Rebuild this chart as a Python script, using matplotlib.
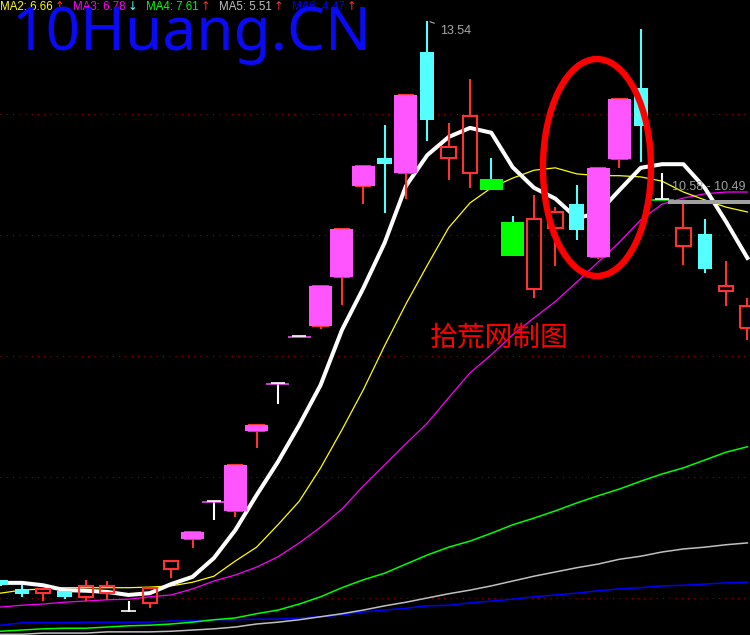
import numpy as np
import matplotlib.pyplot as plt
from matplotlib.patches import Rectangle, Ellipse

# candle data (price units), one entry per bar
opens = [4.30, 4.15, 4.08, 4.12, 4.02, 4.08, 3.77, 3.92, 4.48, 4.98, 5.60, 5.44,
         6.76, 7.55, 8.33, 8.50, 9.31, 10.81, 11.27, 11.02, 13.02, 11.27, 11.02, 10.93,
         10.21, 9.11, 10.12, 10.51, 9.64, 11.26, 12.43, 10.59, 9.82, 10.02, 9.07, 8.46]
highs = [4.30, 4.21, 4.16, 4.12, 4.30, 4.28, 3.95, 4.17, 4.61, 5.09, 5.60, 6.20,
         6.86, 7.55, 8.33, 9.16, 10.12, 11.16, 11.82, 12.33, 13.54, 11.85, 12.58, 11.27,
         10.31, 10.66, 10.46, 10.83, 11.12, 12.26, 13.40, 11.02, 10.53, 10.26, 9.57, 8.96]
lows = [4.20, 4.02, 3.95, 3.98, 3.95, 3.97, 3.77, 3.83, 4.33, 4.83, 5.29, 5.34,
        6.48, 7.21, 8.33, 8.45, 8.84, 10.51, 10.36, 10.60, 11.55, 10.91, 10.78, 10.74,
        9.65, 8.96, 9.49, 9.92, 9.60, 11.11, 11.21, 10.59, 9.50, 9.37, 8.83, 8.26]
closes = [4.22, 4.07, 4.15, 4.02, 4.20, 4.20, 3.77, 4.17, 4.61, 5.09, 5.60, 6.20,
          6.86, 7.55, 8.33, 9.16, 10.10, 11.14, 11.17, 12.31, 11.90, 11.45, 11.97, 10.74,
          9.65, 10.26, 10.38, 10.08, 11.11, 12.25, 11.80, 10.59, 10.12, 9.44, 9.16, 8.83]
# highlight overlay: m = magenta, g = green
marks = ['', '', '', '', '', '', '', '', '', 'm', 'm', 'm',
         'm', 'm', 'm', 'm', 'm', 'm', '', 'm', '', '', '', 'g',
         'g', '', '', '', 'm', 'm', '', 'g', '', '', '', '']

# moving averages
ma1 = [4.25, 4.25, 4.21, 4.13, 4.12, 4.10, 4.05, 4.08, 4.23, 4.35, 4.66, 5.12,
       5.70, 6.25, 6.86, 7.52, 8.43, 9.12, 9.87, 10.81, 11.32, 11.62, 11.77, 11.69,
       11.12, 10.78, 10.60, 10.28, 10.36, 10.74, 11.11, 11.17, 11.17, 10.78, 10.22, 9.62]
ma2 = [4.08, 4.13, 4.15, 4.17, 4.17, 4.17, 4.17, 4.18, 4.20, 4.26, 4.36, 4.61,
       4.84, 5.21, 5.60, 6.15, 6.78, 7.44, 8.17, 8.86, 9.50, 10.12, 10.53, 10.78,
       10.94, 11.07, 11.11, 11.01, 10.98, 10.98, 10.96, 10.89, 10.71, 10.58, 10.46, 10.38]
ma3 = [3.85, 3.88, 3.90, 3.93, 3.95, 3.97, 3.98, 4.02, 4.05, 4.15, 4.28, 4.38,
       4.51, 4.68, 4.91, 5.17, 5.47, 5.85, 6.20, 6.55, 6.89, 7.31, 7.72, 8.02,
       8.35, 8.63, 8.90, 9.22, 9.55, 9.88, 10.25, 10.51, 10.61, 10.68, 10.71, 10.71]
ma4 = [3.45, 3.47, 3.49, 3.50, 3.50, 3.52, 3.54, 3.55, 3.57, 3.60, 3.64, 3.67,
       3.74, 3.80, 3.90, 4.02, 4.17, 4.30, 4.41, 4.56, 4.71, 4.84, 4.94, 5.07,
       5.21, 5.32, 5.44, 5.57, 5.69, 5.80, 5.93, 6.05, 6.15, 6.28, 6.41, 6.50]
ma5 = [3.40, 3.40, 3.42, 3.42, 3.42, 3.44, 3.44, 3.44, 3.45, 3.47, 3.49, 3.52,
       3.57, 3.60, 3.64, 3.69, 3.74, 3.80, 3.87, 3.93, 4.00, 4.07, 4.13, 4.20,
       4.28, 4.36, 4.43, 4.50, 4.56, 4.64, 4.69, 4.76, 4.81, 4.84, 4.88, 4.91]
ma6 = [3.55, 3.59, 3.59, 3.59, 3.60, 3.60, 3.60, 3.60, 3.62, 3.62, 3.64, 3.64,
       3.65, 3.65, 3.67, 3.69, 3.72, 3.77, 3.80, 3.83, 3.87, 3.88, 3.92, 3.95,
       3.98, 4.02, 4.05, 4.08, 4.12, 4.15, 4.17, 4.20, 4.21, 4.23, 4.25, 4.26]

grid_levels = [12, 10, 8, 6, 4]
header = [("MA2: 6.66", "#ffff00", "\u2191", "#ff3030"),
          ("MA3: 6.78", "#ff00ff", "\u2193", "#54ffff"),
          ("MA4: 7.61", "#00ff00", "\u2191", "#ff3030"),
          ("MA5: 5.51", "#c0c0c0", "\u2191", "#ff3030"),
          ("MA6: 4.47", "#0000ff", "\u2191", "#ff3030")]
gap_label = "10.58 - 10.49"
gap_level = 10.545

RED = "#ff3232"
CYAN = "#54ffff"
PINK = "#ff55ff"
GREEN = "#00ff00"

W, H = 750, 635
PXB = 21.34   # pixels per bar
PXU = 60.5    # pixels per price unit

fig = plt.figure(figsize=(W / 100, H / 100), dpi=100)
fig.patch.set_facecolor("black")
ax = fig.add_axes([0, 0, 1, 1])
ax.set_facecolor("black")
ax.set_xlim(-0.5 / PXB, (W - 0.5) / PXB)
ax.set_ylim(13.884 - H / PXU, 13.884)
ax.axis("off")

for lv in grid_levels:
    ax.axhline(lv, color="#a00000", lw=0.75, linestyle=(0, (1, 5)), zorder=1)

x = np.arange(len(opens))
ax.plot(x, ma6, color="#0000ff", lw=1.1, zorder=2)
ax.plot(x, ma5, color="#c0c0c0", lw=1.1, zorder=2)
ax.plot(x, ma4, color=GREEN, lw=1.1, zorder=2)
ax.plot(x, ma3, color="#ff00ff", lw=0.9, zorder=2)
ax.plot(x, ma2, color="#ffff00", lw=0.9, zorder=2)
ax.plot(x, ma1, color="white", lw=2.9, zorder=2)

hw = 7.2 / PXB      # half width of normal candle
ow = 11.5 / PXB     # half width of highlight bar
px = 1 / PXU
for i in range(len(opens)):
    o, h, l, c = opens[i], highs[i], lows[i], closes[i]
    top, bot = max(o, c), min(o, c)
    if c > o:
        ax.plot([i, i], [top, h], color=RED, lw=1.5, zorder=3, solid_capstyle="butt")
        ax.plot([i, i], [l, bot], color=RED, lw=1.5, zorder=3, solid_capstyle="butt")
        ax.add_patch(Rectangle((i - hw, bot), 2 * hw, top - bot, facecolor="none",
                               edgecolor=RED, lw=1.5, zorder=4))
    elif c < o:
        ax.plot([i, i], [l, h], color=CYAN, lw=1.5, zorder=3, solid_capstyle="butt")
        ax.add_patch(Rectangle((i - hw, bot), 2 * hw, top - bot, facecolor=CYAN,
                               edgecolor="none", zorder=4))
    else:
        ax.plot([i, i], [l, h], color="white", lw=1.5, zorder=3, solid_capstyle="butt")
    mk = marks[i]
    if mk:
        col = PINK if mk == "m" else GREEN
        if c != o:
            ax.add_patch(Rectangle((i - ow, bot), 2 * ow, top - bot, facecolor=col,
                                   edgecolor="none", zorder=5))
        else:
            ax.plot([i - ow, i + ow], [o - px, o - px], color=col, lw=1.1, zorder=5,
                    solid_capstyle="butt")
    if c == o:
        ax.plot([i - hw, i + hw], [o + 0.5 * px, o + 0.5 * px], color="white", lw=1.2,
                zorder=6, solid_capstyle="butt")

# high marker
imax = int(np.argmax(highs))
ax.annotate(f"{highs[imax]:.2f}", xy=(imax, highs[imax]), xytext=(9, -7),
            textcoords="offset points", color="#a8a8a8", fontsize=9,
            family="Liberation Sans", va="center",
            arrowprops=dict(arrowstyle="-", color="#a8a8a8", lw=0.8))

# gap marker
ax.plot([31.28, x[-1] + 1], [gap_level, gap_level], color="#a0a0a0", lw=2.9,
        zorder=6, solid_capstyle="butt")
ax.text(31.45, gap_level + 9 * px, gap_label, color="#a0a0a0", fontsize=9,
        family="Liberation Sans", va="bottom", zorder=7)

# circled highlight
ax.add_patch(Ellipse((27.95, 11.115), 108 / PXB, 217 / PXU, facecolor="none",
                     edgecolor="#ff0000", lw=4.6, zorder=8))

# header line
xpos = 0
for label, col, arr, acol in header:
    fig.text(xpos / W, 1 - 10 / H, label, color=col, fontsize=8.3,
             family="Liberation Sans", va="baseline")
    fig.text((xpos + 55) / W, 1 - 10 / H, arr, color=acol, fontsize=8.3,
             family="DejaVu Sans", va="baseline")
    xpos += 73

fig.text(12 / W, 1 - 50 / H, "10Huang.CN", color="#0a0af5", fontsize=43.5,
         family="Noto Sans", fontweight="semibold", va="baseline")
fig.text(499 / W, 1 - 338 / H, "拾荒网制图", color="#ff0000", fontsize=20,
         family=["Noto Sans CJK SC", "DejaVu Sans"], ha="center", va="center")

fig.savefig("out.png", dpi=100, facecolor="black")
